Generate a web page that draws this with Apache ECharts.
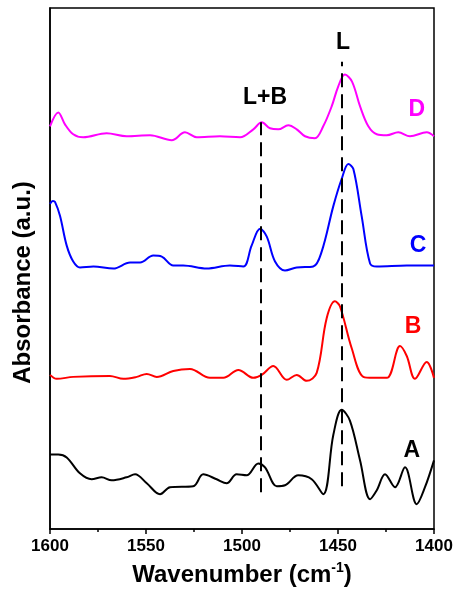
<!DOCTYPE html>
<html>
<head>
<meta charset="utf-8">
<script src="https://cdn.jsdelivr.net/npm/echarts@6/dist/echarts.min.js"></script>
<style>html,body{margin:0;padding:0;background:#fff}#c{width:459px;height:594px}</style>
</head>
<body>
<div id="c"></div>
<script>
// Wavenumber (cm-1) and offset absorbance (a.u.)
const wnD = [1600,1595.7,1592.2,1587.9,1582.7,1570.5,1560.1,1547.9,1536.6,1529.7,1523.6,1511.5,1501.0,1494.1,1489.7,1485.4,1481.1,1475.9,1471.5,1467.2,1462.0,1457.7,1453.3,1449.9,1446.4,1442.7,1438.5,1434.2,1429.8,1424.6,1418.6,1412.5,1403.8,1400];
const absD = [4.05,4.19,4.07,3.97,3.94,3.98,3.95,3.96,3.91,3.99,3.94,3.95,3.94,4.02,4.09,4.03,4.02,4.06,4.02,3.95,3.93,4.05,4.25,4.45,4.57,4.50,4.25,4.05,3.97,3.96,3.99,3.95,3.99,3.95];

const wnC = [1600,1598.5,1597.4,1594.8,1591.3,1587.9,1584.4,1577.4,1567.0,1558.3,1553.1,1546.2,1541.8,1535.8,1530.6,1518.4,1506.3,1499.3,1495.0,1490.6,1487.1,1482.8,1477.6,1471.5,1462.9,1458.5,1452.4,1448.1,1444.6,1442.0,1437.7,1433.3,1429.8,1414.2,1400];
const absC = [3.27,3.30,3.29,3.15,2.85,2.69,2.63,2.64,2.62,2.68,2.68,2.75,2.74,2.65,2.65,2.62,2.65,2.64,2.85,3.02,2.94,2.69,2.60,2.63,2.64,2.79,3.25,3.52,3.67,3.62,3.15,2.67,2.64,2.65,2.65];

const wnB = [1600,1596.5,1587.9,1568.8,1561.8,1554.8,1549.6,1544.4,1535.8,1527.1,1516.7,1509.7,1501.9,1494.1,1489.7,1483.7,1476.7,1471.5,1466.3,1461.1,1455.9,1451.6,1449.0,1442.9,1436.8,1431.6,1424.6,1417.7,1414.2,1409.9,1403.8,1400];
const absB = [1.55,1.51,1.53,1.54,1.51,1.53,1.56,1.53,1.59,1.61,1.52,1.52,1.60,1.52,1.55,1.64,1.50,1.55,1.49,1.57,2.12,2.29,2.24,1.82,1.53,1.52,1.52,1.84,1.74,1.51,1.68,1.52];

const wnA = [1600,1595.7,1591.3,1584.4,1578.3,1573.1,1567.9,1560.1,1555.7,1549.6,1542.7,1537.5,1525.4,1520.2,1513.2,1508.0,1502.8,1497.6,1491.5,1488.0,1481.9,1477.6,1470.7,1463.7,1457.7,1452.4,1448.1,1443.8,1438.5,1433.3,1429.8,1425.5,1420.3,1415.1,1409.0,1404.7,1400];
const absA = [0.75,0.75,0.72,0.56,0.50,0.52,0.49,0.52,0.55,0.46,0.35,0.42,0.43,0.55,0.50,0.46,0.55,0.54,0.66,0.62,0.43,0.44,0.54,0.50,0.35,0.95,1.20,1.09,0.69,0.30,0.39,0.55,0.42,0.62,0.25,0.42,0.69];

const xTicks = [1600,1550,1500,1450,1400];
// band markers
const bandWn = [1490, 1448];
const bandBottom = [0.37, 0.43];
const bandTop = [4.09, 4.70];
const bandNames = ['L+B', 'L'];
const bandLabelWn = [1488, 1447.4];
const bandLabelY = [4.34, 4.89];

const seriesNames = ['A','B','C','D'];
const seriesColors = ['#000000','#ff0000','#0000ff','#ff00ff'];
const letterWn = [1411.5, 1410.9, 1408.3, 1408.9];
const letterY = [0.79, 2.04, 2.85, 4.22];

const wns = [wnA, wnB, wnC, wnD];
const abss = [absA, absB, absC, absD];

const FONT = '"Liberation Sans", Arial, sans-serif';
const textLabel = (color) => ({
  show: true, position: 'inside', formatter: p => p.data[2],
  color: color, fontFamily: FONT, fontWeight: 'bold', fontSize: 23,
  textBorderWidth: 0, textBorderColor: 'transparent', opacity: 1
});
const series = [];
for (let i = 0; i < 4; i++) {
  series.push({
    type: 'line', name: seriesNames[i], smooth: 0.35, symbol: 'none',
    lineStyle: {color: seriesColors[i], width: 2},
    data: wns[i].map((w, k) => [w, abss[i][k]]),
    z: 3
  });
  series.push({
    type: 'scatter', symbolSize: 0, silent: true,
    itemStyle: {color: seriesColors[i], opacity: 1},
    data: [[letterWn[i], letterY[i], seriesNames[i]]],
    label: textLabel(seriesColors[i])
  });
}
series.push({
  type: 'line', symbol: 'none', silent: true, data: [],
  markLine: {
    symbol: 'none', silent: true, label: {show: false},
    lineStyle: {color: '#000', width: 2, type: [14, 7]},
    data: bandWn.map((w, i) => [{coord: [w, bandBottom[i]]}, {coord: [w, bandTop[i]]}])
  }
});
series.push({
  type: 'scatter', symbolSize: 0, silent: true,
  itemStyle: {color: '#000', opacity: 1},
  data: bandWn.map((w, i) => [bandLabelWn[i], bandLabelY[i], bandNames[i]]),
  label: textLabel('#000')
});

const chart = echarts.init(document.getElementById('c'), null, {renderer: 'canvas'});
chart.setOption({
  animation: false,
  backgroundColor: '#fff',
  grid: {left: 50, right: 25, top: 8, bottom: 62, show: true, borderColor: '#000', borderWidth: 1.5},
  xAxis: {
    type: 'value', min: 1400, max: 1600, interval: 50, inverse: true,
    axisLine: {show: true, lineStyle: {color: '#000', width: 1.5}},
    axisTick: {show: true, length: 5, lineStyle: {color: '#000', width: 1.5}},
    minorTick: {show: true, splitNumber: 2, length: 3, lineStyle: {color: '#000', width: 1.5}},
    splitLine: {show: false},
    axisLabel: {color: '#000', fontFamily: FONT, fontWeight: 'bold', fontSize: 17, margin: 9,
      formatter: v => xTicks.includes(v) ? String(v) : ''},
    name: 'Wavenumber (cm{sup|-1})', nameLocation: 'middle', nameGap: 32,
    nameTextStyle: {color: '#000', fontFamily: FONT, fontWeight: 'bold', fontSize: 24, lineHeight: 28,
      rich: {sup: {fontFamily: FONT, fontWeight: 'bold', fontSize: 14, verticalAlign: 'top', color: '#000'}}}
  },
  yAxis: {
    type: 'value', min: 0, max: 5.24,
    axisLine: {show: true, lineStyle: {color: '#000', width: 1.5}},
    axisTick: {show: false}, axisLabel: {show: false}, splitLine: {show: false},
    name: 'Absorbance (a.u.)', nameLocation: 'middle', nameGap: 15,
    nameTextStyle: {color: '#000', fontFamily: FONT, fontWeight: 'bold', fontSize: 24, padding: [0, 28, 0, 0]}
  },
  series: series
});
</script>
</body>
</html>
